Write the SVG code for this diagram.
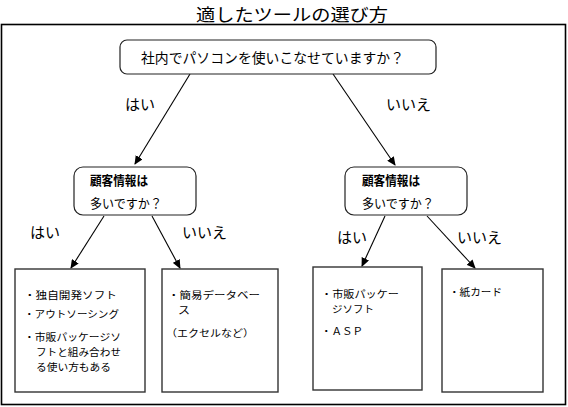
<svg xmlns="http://www.w3.org/2000/svg" width="568" height="407" viewBox="0 0 568 407">
<style>
text{font-family:"Noto Sans CJK JP","Noto Sans CJK SC",sans-serif;fill:#000}
.t{font-size:13px}
.b{font-size:10px}
.lab{font-size:15px}
.q{fill:#fff;stroke:#222;stroke-width:1.2}
.box{fill:#fff;stroke:#333;stroke-width:1.4}
.ln{stroke:#000;stroke-width:1.1;fill:none}
</style>
<defs>
<marker id="ah" markerUnits="userSpaceOnUse" markerWidth="9" markerHeight="8" refX="8" refY="4" orient="auto">
<path d="M0,0 L9,4 L0,8 Z" fill="#000"/>
</marker>
</defs>
<text x="292" y="20.5" font-size="17" text-anchor="middle" textLength="192" lengthAdjust="spacingAndGlyphs">適したツールの選び方</text>
<rect x="1.5" y="24.5" width="564" height="380" fill="none" stroke="#000" stroke-width="1.6"/>
<g id="connectors">
<line class="ln" x1="190" y1="74" x2="135" y2="164" marker-end="url(#ah)"/>
<line class="ln" x1="333" y1="74" x2="395" y2="165" marker-end="url(#ah)"/>
<line class="ln" x1="104" y1="216" x2="71" y2="268" marker-end="url(#ah)"/>
<line class="ln" x1="152" y1="216" x2="180" y2="268" marker-end="url(#ah)"/>
<line class="ln" x1="385" y1="216" x2="362" y2="266" marker-end="url(#ah)"/>
<line class="ln" x1="427" y1="216" x2="475" y2="268" marker-end="url(#ah)"/>
<text class="lab" x="125" y="110">はい</text>
<text class="lab" x="386" y="110">いいえ</text>
<text class="lab" x="30" y="238">はい</text>
<text class="lab" x="182" y="238">いいえ</text>
<text class="lab" x="337" y="243">はい</text>
<text class="lab" x="457" y="243">いいえ</text>
</g>
<g id="q1">
<rect class="q" x="120" y="40" width="316" height="34" rx="7"/>
<text x="141" y="63" font-size="14" textLength="263" lengthAdjust="spacingAndGlyphs">社内でパソコンを使いこなせていますか？</text>
</g>
<g id="q2">
<rect class="q" x="74" y="167" width="122" height="48" rx="9"/>
<text class="t" x="90" y="185" font-weight="bold" textLength="58" lengthAdjust="spacingAndGlyphs">顧客情報は</text>
<text class="t" x="90" y="208" textLength="72" lengthAdjust="spacingAndGlyphs">多いですか？</text>
</g>
<g id="q3">
<rect class="q" x="345" y="167" width="122" height="48" rx="9"/>
<text class="t" x="362" y="185" font-weight="bold" textLength="58" lengthAdjust="spacingAndGlyphs">顧客情報は</text>
<text class="t" x="362" y="208" textLength="72" lengthAdjust="spacingAndGlyphs">多いですか？</text>
</g>
<g id="box1">
<rect class="box" x="15" y="269" width="130" height="123"/>
<text class="b" x="24" y="299" textLength="93" lengthAdjust="spacingAndGlyphs">・独自開発ソフト</text>
<text class="b" x="24" y="318" textLength="95" lengthAdjust="spacingAndGlyphs">・アウトソーシング</text>
<text class="b" x="24" y="341" textLength="97" lengthAdjust="spacingAndGlyphs">・市販パッケージソ</text>
<text class="b" x="36" y="356" textLength="85" lengthAdjust="spacingAndGlyphs">フトと組み合わせ</text>
<text class="b" x="36" y="371" textLength="75" lengthAdjust="spacingAndGlyphs">る使い方もある</text>
</g>
<g id="box2">
<rect class="box" x="162" y="269" width="116" height="123"/>
<text class="b" x="168" y="299" textLength="92" lengthAdjust="spacingAndGlyphs">・簡易データベー</text>
<text class="b" x="178" y="314" textLength="12" lengthAdjust="spacingAndGlyphs">ス</text>
<text class="b" x="166" y="337" textLength="88" lengthAdjust="spacingAndGlyphs">（エクセルなど）</text>
</g>
<g id="box3">
<rect class="box" x="313" y="267" width="109" height="123"/>
<text class="b" x="321" y="298" textLength="78" lengthAdjust="spacingAndGlyphs">・市販パッケー</text>
<text class="b" x="332" y="313" textLength="42" lengthAdjust="spacingAndGlyphs">ジソフト</text>
<text class="b" x="321" y="335" textLength="42" lengthAdjust="spacingAndGlyphs">・ＡＳＰ</text>
</g>
<g id="box4">
<rect class="box" x="442" y="269" width="101" height="123"/>
<text class="b" x="449" y="296" textLength="53" lengthAdjust="spacingAndGlyphs">・紙カード</text>
</g>
</svg>
